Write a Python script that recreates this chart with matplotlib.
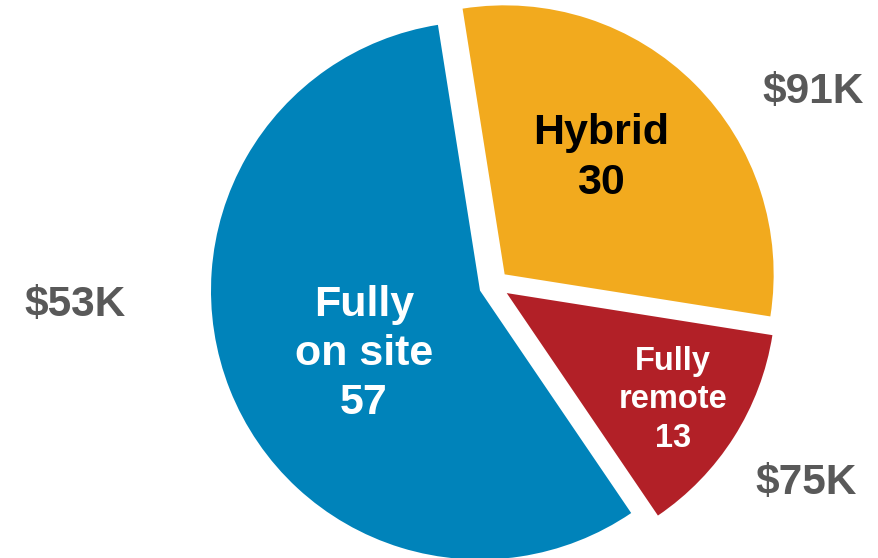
import matplotlib
matplotlib.use("Agg")
import matplotlib.pyplot as plt

# data
categories = ["Hybrid", "Fully\nremote", "Fully\non site"]
shares = [30, 13, 57]
salaries = ["$91K", "$75K", "$53K"]
colors = ["#F2AA1E", "#B22027", "#0083BA"]
text_colors = ["black", "white", "white"]

plt.rcParams["font.family"] = ["Liberation Sans", "DejaVu Sans"]

W, H = 879, 558
fig = plt.figure(figsize=(W / 100, H / 100), dpi=100)
ax = fig.add_axes([0, 0, 1, 1])

wedges, _ = ax.pie(shares, colors=colors, startangle=99, counterclock=False,
                   explode=[0.056] * 3, radius=1.0,
                   wedgeprops=dict(linewidth=0))

# pie centre sits at pixel (494, 285), radius ~269 px
R, cx, cy = 269, 494, 285
ax.set_xlim(-cx / R, (W - cx) / R)
ax.set_ylim(-(H - cy) / R, cy / R)
ax.set_aspect("equal")
ax.axis("off")

def at(px, py):
    return px / W, 1 - py / H

inner_pos = [at(601, 158), at(673, 400), at(364, 354)]
inner_size = [31, 23.5, 31]
outer_pos = [at(813, 92), at(806, 483), at(75, 305)]

for cat, val, pos, sz, tc in zip(categories, shares, inner_pos, inner_size, text_colors):
    ax.text(*pos, f"{cat}\n{val}", transform=ax.transAxes, ha="center", va="center",
            fontsize=sz, fontweight="bold", color=tc, linespacing=1.3)

for lab, pos in zip(salaries, outer_pos):
    ax.text(*pos, lab, transform=ax.transAxes, ha="center", va="center",
            fontsize=30.5, fontweight="bold", color="#595959")

fig.savefig("out.png", dpi=100)
